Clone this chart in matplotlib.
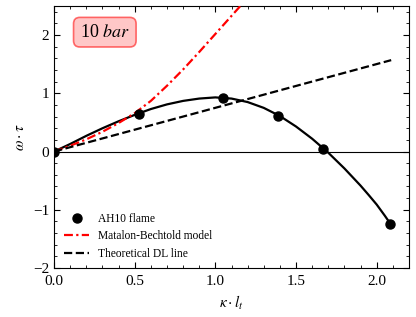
"""Growth rate vs. wavenumber, AH10 flame at 10 bar."""

# -- Imports -----------------------------------------------------------------
import matplotlib
matplotlib.use('Agg')
import matplotlib.pyplot as plt
from matplotlib.ticker import AutoMinorLocator, MultipleLocator

# -- Data --------------------------------------------------------------------
# AH10 flame samples
k_pts = [0.0, 0.525, 1.045, 1.39, 1.667, 2.085]
w_pts = [0.0, 0.64, 0.92, 0.61, 0.05, -1.24]

# fitted curve through the samples
k_fit = [0.0, 0.1, 0.2, 0.3, 0.4, 0.5, 0.6, 0.7, 0.8, 0.9, 1.0, 1.1,
         1.2, 1.3, 1.4, 1.5, 1.6, 1.7, 1.8, 1.9, 1.95, 2.0, 2.05, 2.085]
w_fit = [0.0, 0.13, 0.27, 0.40, 0.52, 0.63, 0.73, 0.81, 0.87, 0.91, 0.93,
         0.91, 0.85, 0.75, 0.61, 0.43, 0.22, -0.02, -0.29, -0.585, -0.745,
         -0.91, -1.10, -1.24]

# Matalon-Bechtold model
k_mb = [0.0, 0.1, 0.2, 0.3, 0.4, 0.5, 0.6, 0.7, 0.8, 0.9, 1.0, 1.1, 1.2]
w_mb = [0.0, 0.10, 0.21, 0.34, 0.49, 0.66, 0.87, 1.13, 1.41, 1.71, 2.02,
        2.33, 2.64]

# Theoretical DL line
k_dl = [0.0, 2.09]
w_dl = [0.0, 1.57]

# -- Style -------------------------------------------------------------------
plt.rcParams['font.family'] = ['Liberation Serif', 'DejaVu Serif']
plt.rcParams['mathtext.fontset'] = 'stix'
plt.rcParams['xtick.direction'] = 'in'
plt.rcParams['ytick.direction'] = 'in'
plt.rcParams['xtick.top'] = True
plt.rcParams['ytick.right'] = True

# -- Figure ------------------------------------------------------------------
fig = plt.figure(figsize=(4.16, 3.17), dpi=100)
ax = fig.add_axes([0.130, 0.1546, 0.853, 0.8265])

ax.axhline(0, color='black', lw=0.8, zorder=1)
ax.plot(k_fit, w_fit, color='black', lw=1.6, zorder=2)
ax.plot(k_pts, w_pts, 'o', color='black', ms=6.5, zorder=4,
        label='AH10 flame')
ax.plot(k_mb, w_mb, color='red', lw=1.6, zorder=3,
        dashes=(4, 1.5, 1, 1.5), label='Matalon-Bechtold model')
ax.plot(k_dl, w_dl, '--', color='black', lw=1.6, zorder=3,
        label='Theoretical DL line')

ax.set_xlim(0, 2.2)
ax.set_ylim(-2, 2.5)
ax.xaxis.set_major_locator(MultipleLocator(0.5))
ax.yaxis.set_major_locator(MultipleLocator(1))
ax.xaxis.set_minor_locator(AutoMinorLocator(5))
ax.yaxis.set_minor_locator(AutoMinorLocator(5))
ax.tick_params(which='major', length=4, width=0.8, labelsize=11)
ax.tick_params(axis='x', which='major', pad=5)
ax.tick_params(which='minor', length=2, width=0.6)

ax.set_xlabel(r'$\kappa \cdot l_t$', fontsize=11)
ax.set_ylabel(r'$\omega \cdot \tau$', fontsize=11)

ax.text(0.143, 0.90, r'10 $bar$', transform=ax.transAxes, fontsize=13,
        ha='center', va='center',
        bbox=dict(boxstyle='round,pad=0.35', facecolor='#ff9999',
                  edgecolor='red', alpha=0.55, lw=1.2))

ax.legend(loc='lower left', frameon=False, fontsize=8.3,
          bbox_to_anchor=(0.0, -0.01), handlelength=2.1)

fig.savefig('out.png', dpi=100)
